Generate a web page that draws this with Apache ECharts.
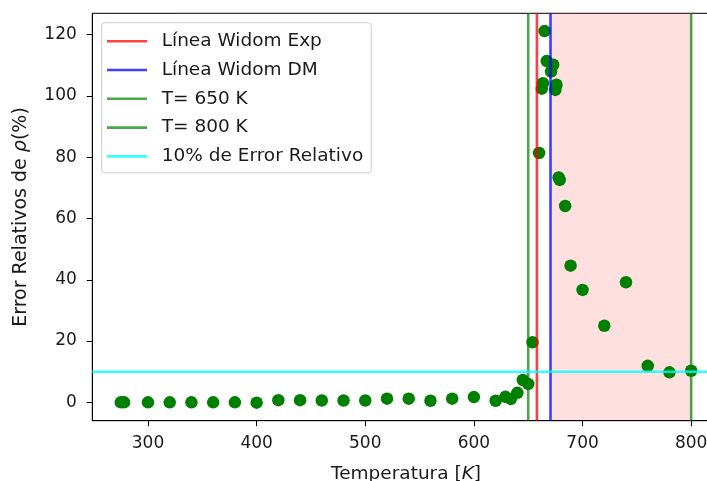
<!DOCTYPE html>
<html><head><meta charset="utf-8">
<script src="https://cdn.jsdelivr.net/npm/echarts@6/dist/echarts.min.js"></script>
<style>html,body{margin:0;padding:0;background:#fff;overflow:hidden}#c{width:740px;height:481px}</style>
</head><body><div id="c"></div>
<script>
const temps = [275, 278, 300, 320, 340, 360, 380, 400, 420, 440, 460, 480, 500, 520, 540, 560, 580, 600, 620, 629, 634, 640, 645, 650, 654, 660, 662.5, 663.5, 665, 667, 671, 673, 675, 676, 678, 679, 684, 689, 700, 720, 740, 760, 780, 800];
const errors = [0.0, 0.0, 0.0, 0.0, 0.0, 0.0, 0.0, -0.1, 0.7, 0.7, 0.6, 0.6, 0.6, 1.2, 1.2, 0.5, 1.2, 1.7, 0.5, 1.8, 1.1, 3.1, 7.3, 6.0, 19.6, 81.4, 102.4, 104.2, 121.2, 111.4, 108.0, 110.2, 102.0, 103.7, 73.4, 72.6, 64.1, 44.6, 36.7, 25.0, 39.2, 11.9, 9.8, 10.3];
const widomExp = 658;
const widomDM = 670.5;
const tLow = 650;
const tHigh = 800;
const errThreshold = 10;
const xTicks = [300, 400, 500, 600, 700, 800];
const yTicks = [0, 20, 40, 60, 80, 100, 120];
const xRange = [248.75, 826.25];
const yRange = [-6, 127];

const legendNames = ['Línea Widom Exp', 'Línea Widom DM', 'T= 650 K', 'T= 800 K', '10% de Error Relativo'];
const cRed = 'rgba(255,0,0,0.75)', cBlue = 'rgba(0,0,255,0.75)', cGreen = 'rgba(0,128,0,0.7)', cCyan = 'rgba(0,255,255,0.8)';
const font = 'DejaVu Sans';

function vline(name, x, color) {
  return { name, type: 'line', data: [[x, yRange[0]], [x, yRange[1]]], symbol: 'none', z: 5,
    lineStyle: { color, width: 2.6 }, itemStyle: { color }, silent: true, animation: false };
}
const chart = echarts.init(document.getElementById('c'));
chart.setOption({
  animation: false,
  textStyle: { fontFamily: font },
  grid: { left: 92.3, top: 13.3, width: 627.4, height: 407.4, outerBoundsMode: 'none', containLabel: false,
    show: true, borderColor: '#000', borderWidth: 1, backgroundColor: 'transparent' },
  legend: {
    orient: 'vertical', left: 101.7, top: 22.7, data: legendNames.map(n => ({ name: n, icon: 'rect' })),
    itemWidth: 40, itemHeight: 2.6, itemGap: 9.8,
    backgroundColor: 'rgba(255,255,255,0.85)', borderColor: '#cccccc', borderWidth: 1, borderRadius: 3,
    padding: [9, 8, 7, 5.3],
    textStyle: { fontFamily: font, fontSize: 18.5, color: '#1a1a1a', lineHeight: 18.5, padding: [0, 0, 0, 9.7] }
  },
  xAxis: {
    type: 'value', min: xRange[0], max: xRange[1],
    name: 'Temperatura [{i|K}]', nameLocation: 'middle', nameGap: 44,
    nameTextStyle: { fontFamily: font, fontSize: 18.5, color: '#1a1a1a', rich: { i: { fontStyle: 'italic', fontFamily: font, fontSize: 18.5, color: '#1a1a1a' } } },
    axisLine: { show: true, onZero: false, lineStyle: { color: '#000', width: 1 } },
    axisTick: { show: true, inside: false, length: 5.5, customValues: xTicks, lineStyle: { color: '#000' } },
    axisLabel: { customValues: xTicks, fontFamily: font, fontSize: 17, color: '#1a1a1a', margin: 14 },
    splitLine: { show: false }
  },
  yAxis: {
    type: 'value', min: yRange[0], max: yRange[1],
    name: 'Error Relativos de {i|ρ}(%)', nameLocation: 'middle', nameGap: 62, nameRotate: 90,
    nameTextStyle: { fontFamily: font, fontSize: 19, color: '#1a1a1a', rich: { i: { fontStyle: 'italic', fontFamily: font, fontSize: 19, color: '#1a1a1a' } } },
    axisLine: { show: true, onZero: false, lineStyle: { color: '#000', width: 1 } },
    axisTick: { show: true, inside: false, length: 5.5, customValues: yTicks, lineStyle: { color: '#000' } },
    axisLabel: { customValues: yTicks, fontFamily: font, fontSize: 17, color: '#1a1a1a', margin: 15.5 },
    splitLine: { show: false }
  },
  series: [
    { type: 'scatter', name: 'datos', data: temps.map((t, i) => [t, errors[i]]), symbolSize: 12.5, z: 3,
      itemStyle: { color: '#008000', opacity: 1 },
      markArea: { silent: true, itemStyle: { color: 'rgba(255,0,0,0.12)' }, data: [[{ xAxis: widomDM }, { xAxis: tHigh }]] } },
    vline(legendNames[0], widomExp, cRed),
    vline(legendNames[1], widomDM, cBlue),
    vline(legendNames[2], tLow, cGreen),
    vline(legendNames[3], tHigh, cGreen),
    { name: legendNames[4], type: 'line', data: [[xRange[0], errThreshold], [xRange[1], errThreshold]], symbol: 'none', z: 5,
      lineStyle: { color: cCyan, width: 2.6 }, itemStyle: { color: cCyan }, silent: true }
  ]
});
</script></body></html>
